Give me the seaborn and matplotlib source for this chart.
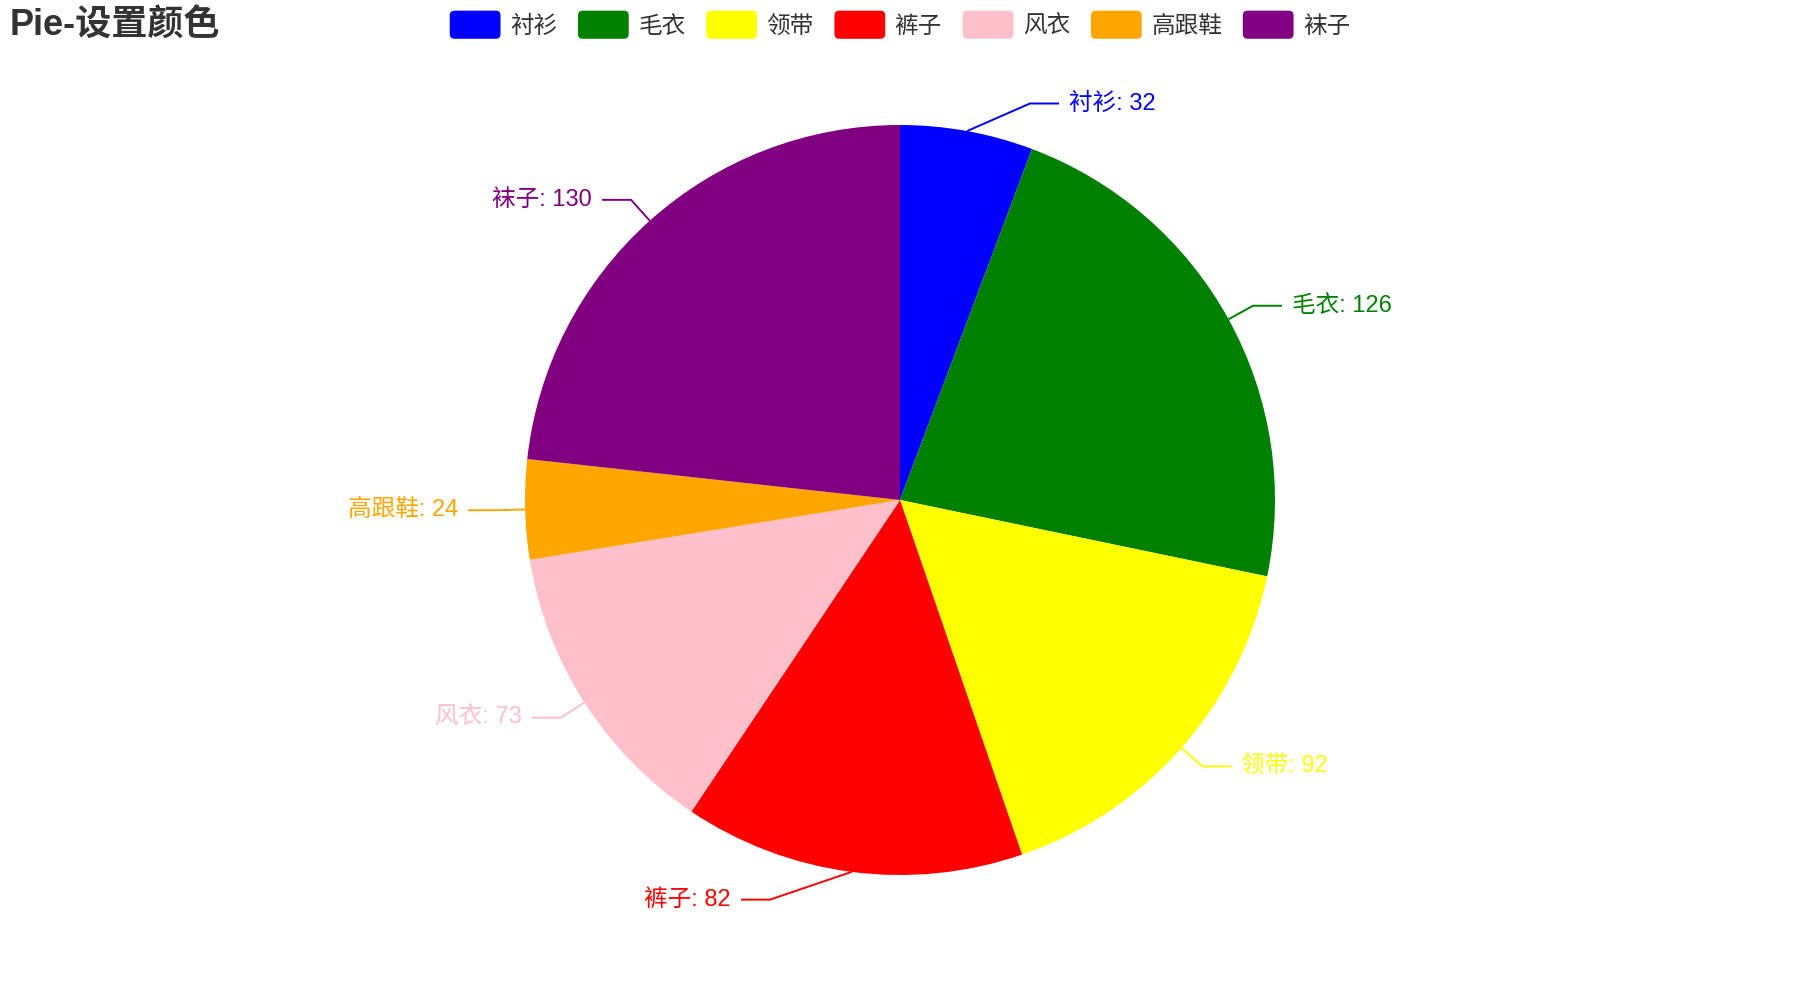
import numpy as np
import matplotlib
matplotlib.use("Agg")
import matplotlib.pyplot as plt
import seaborn as sns
from matplotlib.patches import Patch, FancyBboxPatch
from matplotlib.legend_handler import HandlerPatch

sns.set_theme(style="white")
plt.rcParams['font.family'] = ['Liberation Sans', 'Noto Sans CJK SC', 'DejaVu Sans']

# data
categories = ["衬衫", "毛衣", "领带", "裤子", "风衣", "高跟鞋", "袜子"]
values = [32, 126, 92, 82, 73, 24, 130]
colors = ["blue", "green", "yellow", "red", "pink", "orange", "purple"]
title = "Pie-设置颜色"


class RoundBox(HandlerPatch):
    def create_artists(self, legend, orig, xdescent, ydescent, width, height, fontsize, trans):
        p = FancyBboxPatch((-xdescent, -ydescent - 0.1 * height), width, height * 1.2,
                           boxstyle="round,pad=0,rounding_size=%f" % (0.2 * height),
                           facecolor=orig.get_facecolor(), edgecolor="none",
                           transform=trans)
        return [p]


fig = plt.figure(figsize=(18, 10), dpi=100)
ax = fig.add_axes([0, 0, 1, 1])

r = 3.75
wedges, _ = ax.pie(values, colors=colors, startangle=90, counterclock=False,
                   radius=r, wedgeprops=dict(linewidth=0))
ax.set_xlim(-9, 9)
ax.set_ylim(-5, 5)
ax.set_aspect("equal")
ax.axis("off")

# labels with elbow lines
total = sum(values)
start = 0.0
for cat, val, col in zip(categories, values, colors):
    mid = np.deg2rad(start + val / total * 360 / 2)  # clockwise from top
    start += val / total * 360
    sx, sy = r * np.sin(mid), r * np.cos(mid)
    ex, ey = (r + 0.28) * np.sin(mid), (r + 0.28) * np.cos(mid)
    side = 1 if sx >= 0 else -1
    ex = side * max(abs(ex), 1.3)
    tx = ex + side * 0.29
    ax.plot([sx, ex, tx], [sy, ey, ey], color=col, lw=1.4, solid_capstyle="butt")
    ax.text(tx + side * 0.1, ey, f"{cat}: {val}", color=col, fontsize=17,
            ha="left" if side > 0 else "right", va="center")

fig.text(10 / 1800, 1 - 9 / 1000, title, fontsize=26, fontweight="bold",
         color="#333333", ha="left", va="top")

handles = [Patch(facecolor=c, label=l) for c, l in zip(colors, categories)]
fig.legend(handles=handles, loc="upper center", bbox_to_anchor=(0.5, 1 - 13 / 1000),
           ncol=len(categories), frameon=False, fontsize=17,
           handlelength=2.15, handleheight=1.15, handletextpad=0.4,
           columnspacing=0.88, borderpad=0, borderaxespad=0,
           labelcolor="#333333", handler_map={Patch: RoundBox()})

fig.savefig("out.png", dpi=100)
